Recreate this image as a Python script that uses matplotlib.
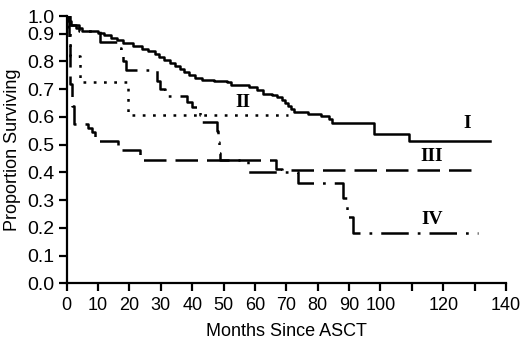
import numpy as np
import matplotlib
matplotlib.use("Agg")
import matplotlib.pyplot as plt

# Kaplan-Meier curves (months, proportion surviving)
t_I = [0, 0.5, 1.5, 3, 5, 10, 12, 14, 16, 18, 21, 24, 26, 28, 29.5, 31, 33, 34.5,
       36, 37.5, 39, 41, 43, 47, 51, 52.5, 58, 60.5, 62.5, 65.5, 67, 68.5, 69.5,
       70.5, 71.5, 72.5, 77, 81, 83.5, 84.5, 98, 109, 135]
s_I = [1.0, 0.97, 0.95, 0.93, 0.915, 0.905, 0.895, 0.885, 0.876, 0.866, 0.855,
       0.846, 0.838, 0.826, 0.815, 0.805, 0.795, 0.783, 0.772, 0.762, 0.752,
       0.742, 0.735, 0.73, 0.725, 0.714, 0.708, 0.696, 0.684, 0.678, 0.672,
       0.662, 0.652, 0.64, 0.628, 0.618, 0.612, 0.604, 0.594, 0.578, 0.54,
       0.512, 0.512]

t_II = [0, 0.5, 1.0, 4.3, 19.6, 70.6]
s_II = [1.0, 0.909, 0.818, 0.727, 0.606, 0.606]

t_III = [0, 0.6, 1.2, 1.8, 2.2, 6.9, 8.0, 9.0, 16.2, 23.4, 66.8, 68.5, 130.7]
s_III = [1.0, 0.86, 0.72, 0.64, 0.576, 0.561, 0.546, 0.512, 0.48, 0.444, 0.414,
         0.41, 0.41]

t_IV = [0, 1.0, 4.0, 10.6, 16.0, 17.3, 18.0, 19.0, 28.7, 29.8, 31.3, 38.2, 40.0,
        42.5, 43.2, 48.0, 48.3, 48.5, 48.7, 57.9, 73.8, 88.2, 89.2, 91.3, 131.2]
s_IV = [1.0, 0.95, 0.918, 0.87, 0.85, 0.82, 0.80, 0.768, 0.73, 0.70, 0.674,
        0.654, 0.636, 0.606, 0.582, 0.55, 0.51, 0.47, 0.444, 0.40, 0.362, 0.306,
        0.24, 0.182, 0.182]

x_ticks = list(range(0, 150, 10))
x_labels = [str(v) if v not in (110, 130) else "" for v in x_ticks]
y_ticks = [round(0.1 * i, 1) for i in range(11)]

# the original figure squeezes the 0.9-1.0 band
K = 0.64


def fwd(p):
    p = np.asarray(p, dtype=float)
    return np.where(p <= 0.9, p, 0.9 + (p - 0.9) * K)


def inv(v):
    v = np.asarray(v, dtype=float)
    return np.where(v <= 0.9, v, 0.9 + (v - 0.9) / K)


plt.rcParams["font.family"] = ["Liberation Sans", "DejaVu Sans"]

fig = plt.figure(figsize=(5.2, 3.42), dpi=100)
ax = fig.add_axes([0.1283, 0.1716, 0.8448, 0.7816])

lw = 1.8
ax.plot(t_I, s_I, drawstyle="steps-post", color="black", lw=lw)
ax.plot(t_II, s_II, drawstyle="steps-post", color="black", lw=lw,
        linestyle=(0, (1.1, 3.0)))
ax.plot(t_III, s_III, drawstyle="steps-post", color="black", lw=lw,
        linestyle=(0, (9.0, 3.6)))
ax.plot(t_IV, s_IV, drawstyle="steps-post", color="black", lw=lw,
        linestyle=(0, (11.0, 3.6, 1.1, 3.6)))

tfont = dict(family="Liberation Serif", fontsize=14, fontweight="bold")
ax.text(127.7, 0.576, "I", ha="center", va="center", **tfont)
ax.text(56.1, 0.651, "II", ha="center", va="center", **tfont)
ax.text(116.4, 0.456, "III", ha="center", va="center", **tfont)
ax.text(116.4, 0.231, "IV", ha="center", va="center", **tfont)

ax.set_yscale("function", functions=(fwd, inv))
ax.set_xlim(0, 140)
ax.set_ylim(0, 1.0)
ax.set_xticks(x_ticks)
ax.set_xticklabels(x_labels)
ax.set_yticks(y_ticks)
ax.set_yticklabels(["%.1f" % v for v in y_ticks])
ax.minorticks_off()

for side in ("top", "right"):
    ax.spines[side].set_visible(False)
for side in ("left", "bottom"):
    ax.spines[side].set_linewidth(1.6)
ax.tick_params(direction="out", length=6, width=1.6, labelsize=13,
               colors="black", pad=4)
ax.tick_params(axis="y", labelsize=14, pad=3)

ax.set_xlabel("Months Since ASCT", fontsize=13, labelpad=6)
ax.set_ylabel("Proportion Surviving", fontsize=13, labelpad=4)

fig.savefig("out.png", dpi=100)
